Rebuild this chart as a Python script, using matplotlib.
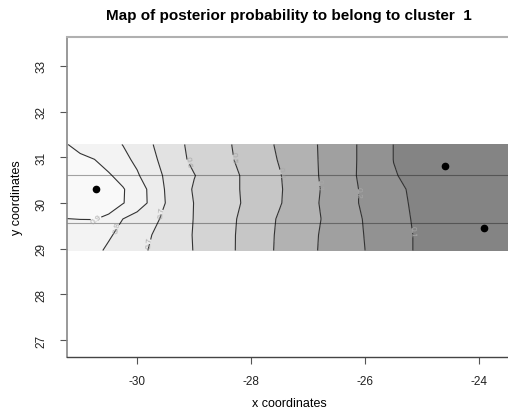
import matplotlib
matplotlib.use("Agg")
import matplotlib.pyplot as plt
import numpy as np

plt.rcParams["axes.unicode_minus"] = False
plt.rcParams["font.family"] = ["Liberation Sans", "DejaVu Sans"]

# grid (x columns, y rows, posterior probability)
x_grid = [-31.25, -31.0, -30.75, -30.5, -30.25, -30.0, -29.75, -29.5, -29.25, -29.0,
          -28.5, -28.0, -27.5, -27.0, -26.5, -26.0, -25.5, -25.0, -24.5, -24.0, -23.25]
y_grid = [28.96, 29.3, 29.65, 30.0, 30.3, 30.6, 30.95, 31.28]
prob = [
    [0.85, 0.84, 0.82, 0.786, 0.755, 0.724, 0.692, 0.661, 0.629, 0.597,
     0.532, 0.46, 0.384, 0.32, 0.26, 0.2, 0.125, 0.088, 0.063, 0.045, 0.028],
    [0.87, 0.865, 0.85, 0.81, 0.775, 0.738, 0.701, 0.666, 0.63, 0.595,
     0.532, 0.461, 0.386, 0.323, 0.26, 0.197, 0.125, 0.088, 0.063, 0.045, 0.028],
    [0.899, 0.901, 0.902, 0.889, 0.8, 0.762, 0.723, 0.683, 0.64, 0.597,
     0.534, 0.465, 0.39, 0.33, 0.264, 0.193, 0.121, 0.086, 0.062, 0.044, 0.027],
    [0.935, 0.935, 0.935, 0.925, 0.905, 0.847, 0.78, 0.698, 0.647, 0.598,
     0.54, 0.477, 0.406, 0.328, 0.254, 0.184, 0.117, 0.084, 0.061, 0.043, 0.027],
    [0.95, 0.95, 0.945, 0.93, 0.907, 0.849, 0.776, 0.693, 0.639, 0.592,
     0.536, 0.476, 0.408, 0.332, 0.257, 0.183, 0.114, 0.082, 0.06, 0.042, 0.026],
    [0.945, 0.94, 0.93, 0.91, 0.868, 0.811, 0.746, 0.687, 0.645, 0.603,
     0.539, 0.474, 0.405, 0.328, 0.252, 0.177, 0.104, 0.078, 0.057, 0.04, 0.025],
    [0.93, 0.915, 0.901, 0.863, 0.825, 0.78, 0.723, 0.669, 0.618, 0.582,
     0.525, 0.462, 0.394, 0.325, 0.253, 0.178, 0.099, 0.075, 0.055, 0.04, 0.025],
    [0.904, 0.878, 0.848, 0.825, 0.798, 0.752, 0.706, 0.658, 0.611, 0.578,
     0.521, 0.455, 0.386, 0.323, 0.253, 0.178, 0.099, 0.075, 0.055, 0.04, 0.025],
]
levels = [0.0, 0.1, 0.2, 0.3, 0.4, 0.5, 0.6, 0.7, 0.8, 0.9, 1.0]
band_colors = ["#848484", "#929292", "#a0a0a0", "#b2b2b2", "#c6c6c6",
               "#d4d4d4", "#e2e2e2", "#ececec", "#f3f3f3", "#f9f9f9"]

# individuals of the cluster and the two grey horizontal lines
pts_x = [-30.72, -24.6, -23.91]
pts_y = [30.31, 30.81, 29.45]
hlines_y = [30.61, 29.56]

# label spots for the contour values
label_pos = [(-30.7, 29.65), (-30.3, 29.47), (-29.6, 29.8), (-29.77, 29.15),
             (-29.12, 30.9), (-28.26, 31.0), (-27.46, 30.68), (-26.75, 30.42),
             (-26.14, 30.24), (-25.37, 29.39)]

fig = plt.figure(figsize=(5.08, 4.10), dpi=100)
ax = fig.add_axes([0.132, 0.127, 0.875, 0.780])

X, Y = np.meshgrid(x_grid, y_grid)
Z = np.array(prob)
ax.contourf(X, Y, Z, levels=levels, colors=band_colors)
cs = ax.contour(X, Y, Z, levels=levels[1:-1], colors="#333333", linewidths=0.8)
ax.clabel(cs, fmt="%.1f", fontsize=6, colors="#a8a8a8", manual=label_pos, inline_spacing=1)

for yy in hlines_y:
    ax.axhline(yy, color="black", alpha=0.35, lw=0.8)

ax.plot(pts_x, pts_y, "o", color="black", ms=4.5)

ax.set_xlim(-31.23, -23.43)
ax.set_ylim(26.63, 33.63)
ax.set_xticks([-30, -28, -26, -24])
ax.set_yticks([27, 28, 29, 30, 31, 32, 33])
ax.tick_params(axis="both", direction="out", length=5, width=0.8, color="#555555",
               labelsize=8.5, labelcolor="#222222")
ax.tick_params(axis="x", pad=8)
ax.tick_params(axis="y", pad=9)
for lab in ax.get_yticklabels():
    lab.set_rotation(90)
    lab.set_va("center")

ax.spines["top"].set_color("#b0b0b0")
ax.spines["top"].set_linewidth(1.5)
ax.spines["left"].set_color("#888888")
ax.spines["left"].set_linewidth(1.2)
ax.spines["bottom"].set_color("#444444")
ax.spines["bottom"].set_linewidth(1.0)
ax.spines["right"].set_visible(False)

ax.set_xlabel("x coordinates", fontsize=9, labelpad=7)
ax.set_ylabel("y coordinates", fontsize=9, labelpad=9)
ax.set_title("Map of posterior probability to belong to cluster  1",
             fontsize=11, fontweight="bold", pad=13)

fig.savefig("out.png", dpi=100)
